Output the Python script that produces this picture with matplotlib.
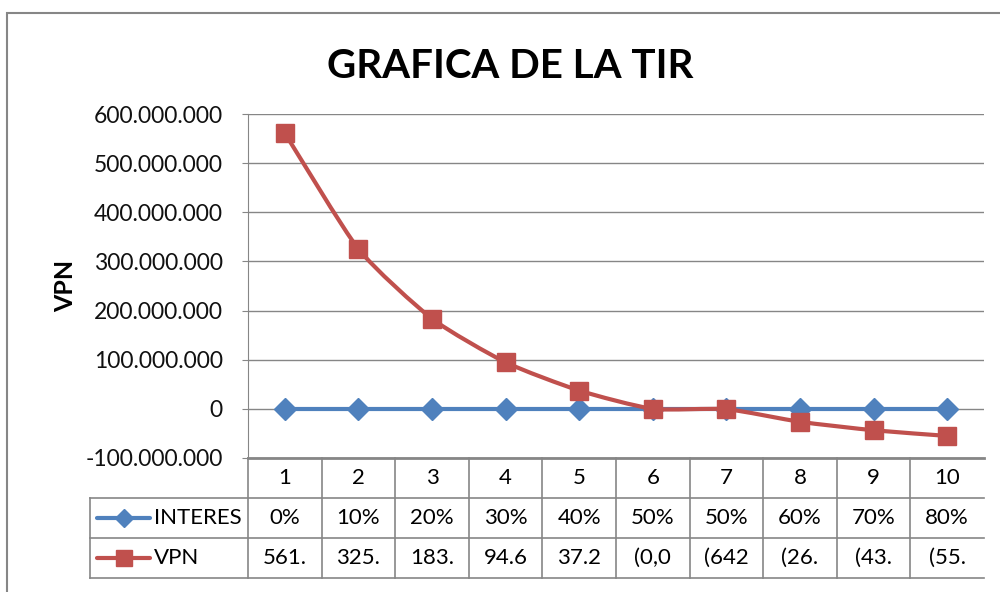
import matplotlib
matplotlib.use("Agg")
from matplotlib import pyplot as plt
from matplotlib.path import Path
from matplotlib.patches import PathPatch, Rectangle
from matplotlib.lines import Line2D
from matplotlib.ticker import FuncFormatter, MultipleLocator
from matplotlib.transforms import blended_transform_factory

# Data
periods = [1, 2, 3, 4, 5, 6, 7, 8, 9, 10]
interes = [0.0, 0.10, 0.20, 0.30, 0.40, 0.50, 0.50, 0.60, 0.70, 0.80]
vpn = [561.2e6, 325.3e6, 183.4e6, 94.6e6, 37.2e6, -0.05e6, -0.642e6, -26.4e6, -43.6e6, -55.1e6]

# Text shown in the data table (truncated, as Excel shows it)
interes_labels = ["0%", "10%", "20%", "30%", "40%", "50%", "50%", "60%", "70%", "80%"]
vpn_labels = ["561.", "325.", "183.", "94.6", "37.2", "(0,0", "(642", "(26.", "(43.", "(55."]

BLUE = "#4F81BD"
RED = "#C0504D"
GRID = "#868686"

plt.rcParams["font.family"] = ["Lato", "DejaVu Sans"]


def smooth_path(xs, ys, k=0.1):
    """Excel-like smoothed line: cubic bezier through every point."""
    n = len(xs)
    verts = [(xs[0], ys[0])]
    codes = [Path.MOVETO]
    for i in range(n - 1):
        p0 = i - 1 if i > 0 else i
        p3 = i + 2 if i + 2 < n else i + 1
        c1 = (xs[i] + (xs[i + 1] - xs[p0]) * k, ys[i] + (ys[i + 1] - ys[p0]) * k)
        c2 = (xs[i + 1] - (xs[p3] - xs[i]) * k, ys[i + 1] - (ys[p3] - ys[i]) * k)
        verts += [c1, c2, (xs[i + 1], ys[i + 1])]
        codes += [Path.CURVE4] * 3
    return Path(verts, codes)


fig = plt.figure(figsize=(10, 5.92), dpi=100)
ax = fig.add_axes([0.248, 0.2264, 0.736, 0.581])

# outer chart border
fig.patches.append(Rectangle((0.007, -0.1), 1.1, 0.1 + 1 - 13 / 592, transform=fig.transFigure,
                             fill=False, ec=GRID, lw=1.5))

# series
ax.plot(periods, interes, color=BLUE, lw=3, marker="D", ms=11, mec=BLUE, mfc=BLUE, zorder=3)
ax.add_patch(PathPatch(smooth_path(periods, vpn), fill=False, ec=RED, lw=3, zorder=4,
                       capstyle="round", joinstyle="round"))
ax.plot(periods, vpn, ls="none", marker="s", ms=13.5, mec=RED, mfc=RED, zorder=5)

ax.set_xlim(0.5, 10.5)
ax.set_ylim(-100e6, 600e6)
ax.yaxis.set_major_locator(MultipleLocator(100e6))
ax.yaxis.set_major_formatter(FuncFormatter(lambda v, _: f"{v:,.0f}".replace(",", ".")))
ax.tick_params(axis="y", labelsize=16.5, length=4, color=GRID, pad=14, labelcolor="#111111")
ax.set_xticks([])
ax.grid(True, axis="y", color=GRID, lw=1)
ax.set_axisbelow(True)
for side in ["top", "right"]:
    ax.spines[side].set_visible(False)
ax.spines["left"].set_color(GRID)
ax.spines["bottom"].set_color(GRID)
ax.spines["bottom"].set_linewidth(2)

ax.set_ylabel("VPN", fontsize=18, fontweight="bold", labelpad=6)
fig.text(0.51, 1 - 66 / 592, "GRAFICA DE LA TIR", ha="center", va="center",
         fontsize=29, fontweight="bold")

# data table under the plot
trans = blended_transform_factory(ax.transData, ax.transAxes)
rh = 40 / 344
left_col = -158 / 736
line_kw = dict(color=GRID, lw=1.2, clip_on=False)

ax.add_line(Line2D([0, 0], [0, -3 * rh], transform=ax.transAxes, **line_kw))
for b in periods[:-1]:
    ax.add_line(Line2D([b + 0.5, b + 0.5], [0, -3 * rh], transform=trans, **line_kw))
ax.add_line(Line2D([left_col, left_col], [-rh, -3 * rh], transform=ax.transAxes, **line_kw))
for k in [1, 2, 3]:
    ax.add_line(Line2D([left_col, 1], [-k * rh, -k * rh], transform=ax.transAxes, **line_kw))

for i, p in enumerate(periods):
    ax.text(p, -0.5 * rh, str(p), transform=trans, ha="center", va="center", fontsize=16)
    ax.text(p, -1.5 * rh, interes_labels[i], transform=trans, ha="center", va="center", fontsize=16)
    ax.text(p, -2.5 * rh, vpn_labels[i], transform=trans, ha="center", va="center", fontsize=16)

# legend keys inside the table
for row, (name, color, marker, ms) in enumerate([("INTERES", BLUE, "D", 9), ("VPN", RED, "s", 12)]):
    yc = -(1.5 + row) * rh
    x0 = left_col + 7 / 736
    x1 = left_col + 60 / 736
    ax.add_line(Line2D([x0, x1], [yc, yc], transform=ax.transAxes, color=color, lw=3,
                       clip_on=False, solid_capstyle="round"))
    ax.add_line(Line2D([(x0 + x1) / 2], [yc], transform=ax.transAxes, color=color, marker=marker,
                       ms=ms, ls="none", clip_on=False))
    ax.text(left_col + 64 / 736, yc, name, transform=ax.transAxes, ha="left", va="center", fontsize=16)

fig.savefig("out.png", dpi=100)
